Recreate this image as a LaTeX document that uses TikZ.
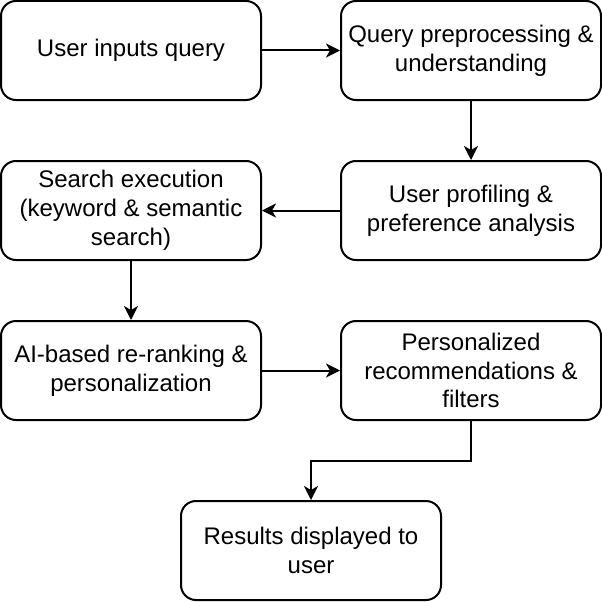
\documentclass[tikz,border=0pt]{standalone}
\usepackage{fontspec}
\setmainfont{Liberation Sans}
\usetikzlibrary{arrows.meta}
\begin{document}
\begin{tikzpicture}[x=1pt,y=-1pt,
  box/.style={draw=black, line width=2pt, rounded corners=15pt, minimum width=260pt, minimum height=99pt, align=center, font=\fontsize{24}{28.8}\selectfont, inner sep=0pt},
  conn/.style={line width=2pt, -{Stealth[length=14pt,width=14pt,inset=4pt]}}]
\useasboundingbox (0,0) rectangle (602,602);
\node[box] (a) at (131,50.5) {User inputs query};
\node[box] (b) at (471,50.5) {Query preprocessing \&\\understanding};
\node[box] (c) at (471,210.5) {User profiling \&\\preference analysis};
\node[box] (d) at (131,210.5) {Search execution\\(keyword \& semantic\\search)};
\node[box] (e) at (131,370.5) {AI-based re-ranking \&\\personalization};
\node[box] (f) at (471,370.5) {Personalized\\recommendations \&\\filters};
\node[box] (g) at (311,550.5) {Results displayed to\\user};
\draw[conn] (a) -- (b);
\draw[conn] (b) -- (c);
\draw[conn] (c) -- (d);
\draw[conn] (d) -- (e);
\draw[conn] (e) -- (f);
\draw[conn] (f.south) -- ++(0,40) -| (g.north);
\end{tikzpicture}
\end{document}
